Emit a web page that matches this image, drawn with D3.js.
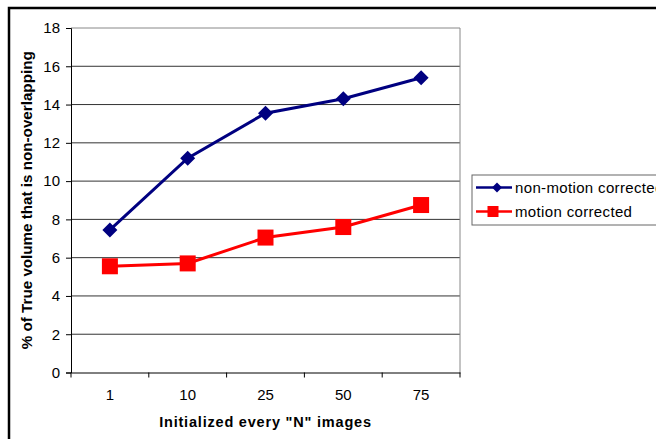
<!DOCTYPE html>
<html><head><meta charset="utf-8">
<script src="https://cdn.jsdelivr.net/npm/d3@7"></script>
<style>body{margin:0;background:#fff}svg{display:block}text{font-family:"Liberation Sans",Arial,sans-serif}</style>
</head><body>
<script>
const categories = ["1","10","25","50","75"];
const nonMotion = [7.45, 11.2, 13.55, 14.3, 15.4];
const motion = [5.55, 5.7, 7.05, 7.6, 8.75];
const yTicks = [0,2,4,6,8,10,12,14,16,18];
const seriesNames = ["non-motion corrected","motion corrected"];

const W=656,H=439;
const FONT="Liberation Sans, Arial, sans-serif";
const svg=d3.select("body").append("svg").attr("width",W).attr("height",H);
svg.append("rect").attr("width",W).attr("height",H).attr("fill","#fff");
// outer border
svg.append("rect").attr("x",9).attr("y",8).attr("width",W+20).attr("height",H+20)
  .attr("fill","none").attr("stroke","#000").attr("stroke-width",2.5);

const L=71,R=460,T=28,B=372.5;
const x=d3.scaleBand().domain(categories).range([L,R]);
const y=d3.scaleLinear().domain([0,18]).range([B,T]);

// gridlines
svg.append("g").selectAll("line").data(yTicks.filter(d=>d>0)).join("line")
  .attr("x1",L).attr("x2",R).attr("y1",d=>y(d)).attr("y2",d=>y(d))
  .attr("stroke",d=>d===18?"#888":"#333").attr("stroke-width",1);
// right border
svg.append("line").attr("x1",R).attr("x2",R).attr("y1",T).attr("y2",B).attr("stroke","#888");

// y axis
const ya=svg.append("g").attr("transform",`translate(${L},0)`)
  .call(d3.axisLeft(y).tickValues(yTicks).tickSize(5).tickPadding(6));
ya.select(".domain").attr("stroke","#000");
ya.selectAll("text").attr("font-size",15).attr("fill","#000").attr("font-family",FONT);

// x axis
const xa=svg.append("g").attr("transform",`translate(0,${B})`)
  .call(d3.axisBottom(x).tickSize(0).tickPadding(17));
xa.select(".domain").attr("stroke","#000");
xa.selectAll("text").attr("font-size",15).attr("fill","#000").attr("font-family",FONT);
// x tick marks at band boundaries
xa.append("g").selectAll("line").data(d3.range(categories.length+1)).join("line")
  .attr("x1",i=>L+i*x.step()).attr("x2",i=>L+i*x.step()).attr("y1",0).attr("y2",5).attr("stroke","#000");

// titles
svg.append("text").attr("transform",`translate(32,${(T+B)/2}) rotate(-90)`)
  .attr("text-anchor","middle").attr("font-size",15.2).attr("font-weight","bold").text("% of True volume that is non-overlapping");
svg.append("text").attr("x",(L+R)/2).attr("y",427).attr("text-anchor","middle")
  .attr("font-size",14.5).attr("letter-spacing",0.8).attr("font-weight","bold").text('Initialized every "N" images');

const cx=d=>x(d)+x.bandwidth()/2;
const line=d3.line().x((d,i)=>cx(categories[i])).y(d=>y(d));
const colors=["#000080","#FF0000"];
[nonMotion,motion].forEach((s,k)=>{
  svg.append("path").datum(s).attr("d",line).attr("fill","none").attr("stroke",colors[k]).attr("stroke-width",3);
});
const diamond=(g,px,py,r)=>g.append("path").attr("d",`M${px},${py-r}L${px+r},${py}L${px},${py+r}L${px-r},${py}Z`).attr("fill","#000080");
nonMotion.forEach((v,i)=>diamond(svg,cx(categories[i]),y(v),7.5));
svg.append("g").selectAll("rect").data(motion).join("rect")
  .attr("x",(d,i)=>cx(categories[i])-8).attr("y",d=>y(d)-8).attr("width",16).attr("height",16).attr("fill","#FF0000");

// legend
svg.append("rect").attr("x",472).attr("y",175).attr("width",200).attr("height",50).attr("fill","#fff").attr("stroke","#666");
const ly=[187.5,211.5];
seriesNames.forEach((n,k)=>{
  svg.append("line").attr("x1",476).attr("x2",512).attr("y1",ly[k]).attr("y2",ly[k]).attr("stroke",colors[k]).attr("stroke-width",2.5);
  if(k===0) diamond(svg,497,ly[k],5);
  else svg.append("rect").attr("x",487.5).attr("y",ly[k]-5.5).attr("width",11).attr("height",11).attr("fill","#FF0000");
  svg.append("text").attr("x",515).attr("y",ly[k]+5.5).attr("font-size",15).attr("letter-spacing",0.35).attr("font-family",FONT).text(n);
});
</script>
</body></html>
